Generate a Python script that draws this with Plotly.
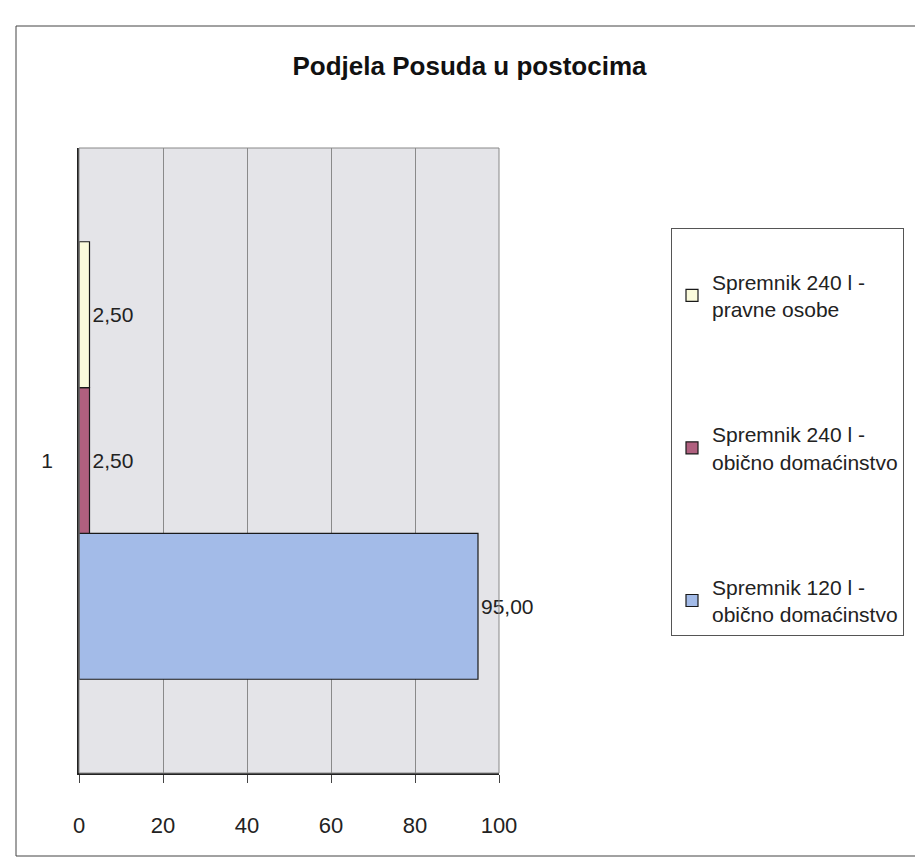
import plotly.graph_objects as go

# data
category = ["1"]
series_names = [
    "Spremnik 120 l -<br>obično domaćinstvo",
    "Spremnik 240 l -<br>obično domaćinstvo",
    "Spremnik 240 l -<br>pravne osobe",
]
values_120_dom = [95.0]
values_240_dom = [2.5]
values_240_pravne = [2.5]
x_ticks = [0, 20, 40, 60, 80, 100]

colors = ["#a3bbe8", "#b0607f", "#fbfbdc"]
font = "Liberation Sans, Arial, sans-serif"

fig = go.Figure()
series = [values_120_dom, values_240_dom, values_240_pravne]
for i, (name, vals) in enumerate(zip(series_names, series)):
    fig.add_trace(go.Bar(
        y=category, x=vals, orientation="h", name=name,
        legendgroup=f"g{i}", legendrank=3 - i,
        marker=dict(color=colors[i], line=dict(color="#1a1a1a", width=1.2)),
        texttemplate="%{x:.2f}", textposition="outside",
        textfont=dict(size=21, color="#222"), cliponaxis=False,
    ))

fig.update_layout(
    width=923, height=862,
    barmode="group", bargap=0.3, bargroupgap=0,
    separators=", ",
    font=dict(family=font, size=21, color="#222"),
    paper_bgcolor="white", plot_bgcolor="#e4e4e8",
    margin=dict(l=71, r=432, t=140, b=97),
    title=dict(text="<b>Podjela Posuda u postocima</b>", x=0.5, xanchor="center",
               y=1 - 58 / 862, yanchor="middle", font=dict(size=26, color="#111")),
    showlegend=True,
    legend=dict(
        xref="container", yref="container", x=663 / 923, y=1 - 220 / 862,
        xanchor="left", yanchor="top",
        traceorder="grouped", tracegroupgap=95,
        bordercolor="#555", borderwidth=1, bgcolor="white",
        font=dict(size=21, color="#222"),
        title=dict(text=" "), itemwidth=30,
    ),
    xaxis=dict(
        range=[0, 100], tickvals=x_ticks, showgrid=True, gridcolor="#8a8a8a", gridwidth=1,
        showline=True, linecolor="#222", linewidth=1.5, mirror=False,
        ticks="outside", ticklen=8, tickcolor="#444", ticklabelstandoff=24,
        zeroline=False, tickfont=dict(size=22),
    ),
    yaxis=dict(
        type="category", showline=True, linecolor="#222", linewidth=1.5,
        ticks="", ticklabelstandoff=20, tickfont=dict(size=21),
    ),
    shapes=[
        dict(type="rect", xref="paper", yref="paper", x0=0, x1=1, y0=0, y1=1,
             line=dict(color="#888", width=1)),
        dict(type="rect", xref="paper", yref="paper", x0=-63 / 420, x1=907 / 420,
             y0=-(848 - 765) / 625, y1=1 + (140 - 18) / 625,
             line=dict(color="#444", width=1)),
    ],
)

fig.write_html("out.html")
